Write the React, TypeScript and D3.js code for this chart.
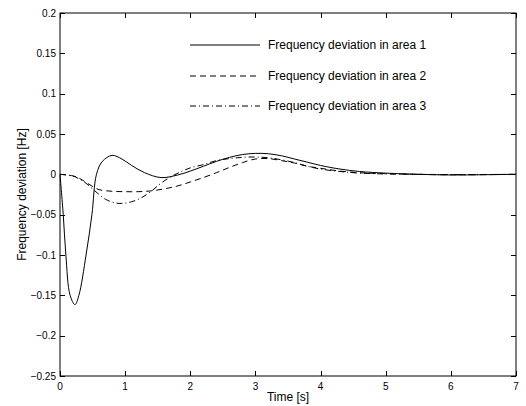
import React, { useEffect, useRef } from 'react';
import * as d3 from 'd3';

// time samples (s) and frequency deviation (Hz)
const t1 = [0, 0.05, 0.09, 0.155, 0.23, 0.29, 0.4, 0.49, 0.56, 0.65, 0.8, 0.95, 1.1, 1.3, 1.55, 1.8, 2.0, 2.2, 2.4, 2.6, 2.8, 3.0, 3.2, 3.4, 3.6, 3.8, 4.0, 4.3, 4.6, 5.0, 5.5, 6.0, 6.5, 7.0];
const area1 = [0, -0.05, -0.1, -0.15, -0.1615, -0.15, -0.1, -0.05, 0, 0.016, 0.0235, 0.019, 0.011, 0.002, -0.004, -0.001, 0.004, 0.01, 0.016, 0.021, 0.0245, 0.026, 0.0255, 0.023, 0.019, 0.015, 0.011, 0.0065, 0.0035, 0.0015, 0, -0.0008, -0.0005, 0];

const t2 = [0, 0.2, 0.3, 0.4, 0.5, 0.6, 0.8, 1.0, 1.2, 1.4, 1.6, 1.8, 2.0, 2.2, 2.4, 2.6, 2.8, 3.0, 3.2, 3.4, 3.6, 3.8, 4.0, 4.3, 4.6, 5.0, 5.5, 6.0, 7.0];
const area2 = [0, -0.002, -0.005, -0.01, -0.015, -0.019, -0.021, -0.0215, -0.0215, -0.0205, -0.018, -0.0145, -0.0095, -0.004, 0.002, 0.0085, 0.0145, 0.019, 0.0195, 0.017, 0.014, 0.01, 0.0075, 0.004, 0.002, 0.0008, 0, -0.0005, 0];

const t3 = [0, 0.2, 0.3, 0.4, 0.5, 0.6, 0.7, 0.85, 0.95, 1.1, 1.25, 1.4, 1.55, 1.7, 1.85, 2.0, 2.2, 2.4, 2.6, 2.8, 3.0, 3.2, 3.4, 3.6, 3.8, 4.0, 4.3, 4.6, 5.0, 5.5, 6.0, 7.0];
const area3 = [0, -0.002, -0.006, -0.011, -0.018, -0.025, -0.031, -0.0355, -0.036, -0.034, -0.029, -0.021, -0.011, -0.003, 0.003, 0.008, 0.012, 0.017, 0.0195, 0.021, 0.0215, 0.0205, 0.018, 0.0145, 0.01, 0.0065, 0.0035, 0.0015, 0.0005, 0, -0.0003, 0];

const xTicks = [0, 1, 2, 3, 4, 5, 6, 7];
const yTicks = [0.2, 0.15, 0.1, 0.05, 0, -0.05, -0.1, -0.15, -0.2, -0.25];
const yTickLabels = ['0.2', '0.15', '0.1', '0.05', '0', '\u22120.05', '\u22120.1', '\u22120.15', '\u22120.2', '\u22120.25'];
const legendLabels = ['Frequency deviation in area 1', 'Frequency deviation in area 2', 'Frequency deviation in area 3'];

function App() {
  const ref = useRef<SVGSVGElement>(null);

  useEffect(() => {
    if (!ref.current) return;
    const svg = d3.select(ref.current);
    svg.selectAll('*').remove();

    const W = 526, H = 406;
    const left = 60, right = 516, top = 13, bottom = 376;
    const font = 'Liberation Sans, Arial, Helvetica, sans-serif';

    svg.attr('width', W).attr('height', H);
    svg.append('rect').attr('width', W).attr('height', H).attr('fill', '#fff');

    const x = d3.scaleLinear().domain([0, 7]).range([left, right]);
    const y = d3.scaleLinear().domain([-0.25, 0.2]).range([bottom, top]);

    // inward ticks on all four sides
    const tick = 5;
    const g = svg.append('g').attr('stroke', '#000').attr('stroke-width', 1);
    xTicks.forEach(v => {
      const px = Math.round(x(v)) + 0.5;
      g.append('line').attr('x1', px).attr('x2', px).attr('y1', bottom).attr('y2', bottom - tick);
      g.append('line').attr('x1', px).attr('x2', px).attr('y1', top).attr('y2', top + tick);
    });
    yTicks.forEach(v => {
      const py = Math.round(y(v)) + 0.5;
      g.append('line').attr('x1', left).attr('x2', left + tick).attr('y1', py).attr('y2', py);
      g.append('line').attr('x1', right).attr('x2', right - tick).attr('y1', py).attr('y2', py);
    });

    svg.selectAll('.xl').data(xTicks).join('text')
      .attr('x', d => x(d)).attr('y', bottom + 14)
      .attr('text-anchor', 'middle').attr('font-family', font).attr('font-size', 10)
      .text(d => String(d));

    svg.selectAll('.yl').data(yTicks).join('text')
      .attr('x', left - 4).attr('y', d => y(d) + 3.5)
      .attr('text-anchor', 'end').attr('font-family', font).attr('font-size', 10)
      .text((d, i) => yTickLabels[i]);

    svg.append('text').attr('x', (left + right) / 2).attr('y', 401)
      .attr('text-anchor', 'middle').attr('font-family', font).attr('font-size', 12)
      .text('Time [s]');
    svg.append('text').attr('transform', `translate(26,${(top + bottom) / 2}) rotate(-90)`)
      .attr('text-anchor', 'middle').attr('font-family', font).attr('font-size', 12)
      .text('Frequency deviation [Hz]');

    const series = [
      { t: t1, v: area1, dash: null },
      { t: t2, v: area2, dash: '6,4' },
      { t: t3, v: area3, dash: '6,3,1,3' },
    ];

    const line = d3.line<[number, number]>()
      .x(d => x(d[0])).y(d => y(d[1]))
      .curve(d3.curveCatmullRom.alpha(0.5));

    series.forEach(s => {
      const pts = s.t.map((tt, i) => [tt, s.v[i]] as [number, number]);
      svg.append('path').attr('d', line(pts))
        .attr('fill', 'none').attr('stroke', '#000').attr('stroke-width', 1)
        .attr('stroke-dasharray', s.dash);
    });

    // legend (no box)
    const ly = [45, 76, 106];
    series.forEach((s, i) => {
      svg.append('line').attr('x1', 190).attr('x2', 260).attr('y1', ly[i]).attr('y2', ly[i])
        .attr('stroke', '#000').attr('stroke-width', 1).attr('stroke-dasharray', s.dash);
      svg.append('text').attr('x', 268).attr('y', ly[i] + 4)
        .attr('font-family', font).attr('font-size', 12)
        .text(legendLabels[i]);
    });

    svg.append('rect').attr('x', left).attr('y', top)
      .attr('width', right - left).attr('height', bottom - top)
      .attr('fill', 'none').attr('stroke', '#000').attr('stroke-width', 1);
  }, []);

  return <svg ref={ref} style={{ position: 'absolute', left: 0, top: 0 }} />;
}

export default App;
